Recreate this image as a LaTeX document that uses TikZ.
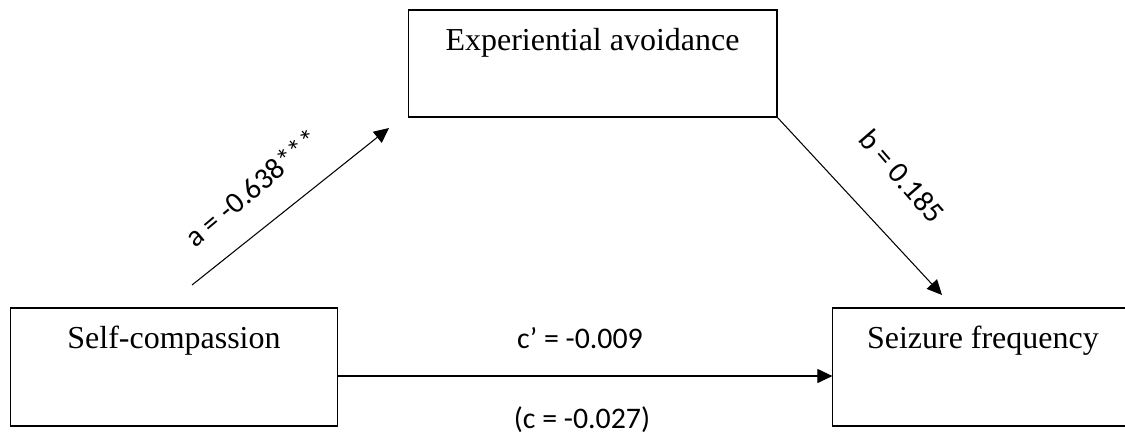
\documentclass[tikz,border=0pt]{standalone}
\usepackage{fontspec}
\setmainfont{Liberation Serif}
\newfontfamily\lblfont{Carlito}
\usepackage{tikz}
\usetikzlibrary{arrows.meta,positioning}

\begin{document}
\begin{tikzpicture}[
    x=0.02cm, y=-0.02cm,
    box/.style={rectangle, draw, line width=0.6pt, inner sep=0pt, align=center, text height=0.8cm,
        font=\fontsize{18.2pt}{22pt}\selectfont},
    tallbox/.style={box, text depth=1.56cm},
    arrow/.style={-{Triangle[length=0.3cm, width=0.28cm]}, line width=0.6pt},
    lbl/.style={font=\lblfont\fontsize{17pt}{20pt}\selectfont, inner sep=0pt}
]
    \useasboundingbox (0,0) rectangle (1125,437);

    % Self-compassion
    \node[tallbox, minimum width=6.56cm] (self) at (174,367) {Self-compassion};

    % Seizure frequency
    \node[tallbox, minimum width=6cm, right=9.88cm of self] (seizure) {Seizure frequency};

    % Experiential avoidance
    \node[box, text depth=1.34cm, minimum width=7.38cm] (avoid) at (592.5,63.5) {Experiential avoidance};

    % Free ends of the paths
    \coordinate (astart) at (192,285);
    \coordinate (aend) at (389,128);
    \coordinate (bend) at (942,295);

    % Arrows
    \draw[arrow] (astart) -- (aend);
    \draw[arrow] (avoid.south east) -- (bend);
    \draw[arrow] ([yshift=-0.18cm]self.east) -- ([yshift=-0.18cm]seizure.west);

    % Path coefficients
    \node[lbl, rotate=40] (alabel) at (252,188) {a = -0.638***};
    \node[lbl, rotate=-49] (blabel) at (902,176) {b = 0.185};
    \node[lbl, anchor=base] (cprime) at (580,348) {c’ = -0.009};
    \node[lbl, anchor=base] (ctotal) at (582,428) {(c = -0.027)};

\end{tikzpicture}
\end{document}
